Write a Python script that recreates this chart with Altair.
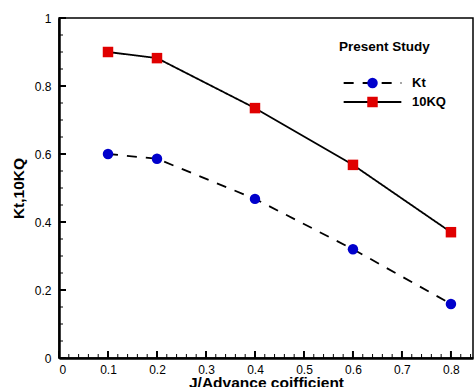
import altair as alt
import pandas as pd

# ---- data ----
J = [0.1, 0.2, 0.4, 0.6, 0.8]
KT = [0.600, 0.586, 0.468, 0.320, 0.159]
KQ10 = [0.900, 0.882, 0.735, 0.568, 0.370]
SERIES = ["Kt", "10KQ"]

X_MAJOR = [0, 0.1, 0.2, 0.3, 0.4, 0.5, 0.6, 0.7, 0.8]
X_MINOR = [0.02, 0.04, 0.06, 0.08, 0.12, 0.14, 0.16, 0.18, 0.22, 0.24, 0.26, 0.28,
           0.32, 0.34, 0.36, 0.38, 0.42, 0.44, 0.46, 0.48, 0.52, 0.54, 0.56, 0.58,
           0.62, 0.64, 0.66, 0.68, 0.72, 0.74, 0.76, 0.78, 0.82, 0.84]
Y_MAJOR = [0, 0.2, 0.4, 0.6, 0.8, 1.0]
Y_MINOR = [0.05, 0.1, 0.15, 0.25, 0.3, 0.35, 0.45, 0.5, 0.55, 0.65, 0.7, 0.75,
           0.85, 0.9, 0.95]

rows = []
for j, v in zip(J, KT):
    rows.append({"J": j, "V": v, "Series": "Kt", "Marker": "Kt"})
for j, v in zip(J, KQ10):
    rows.append({"J": j, "V": v, "Series": "10KQ", "Marker": "10KQ"})
df = pd.DataFrame(rows)

FONT = "Liberation Sans"
BLUE = "#0000cc"
RED = "#e00000"
W, H = 414, 340

xscale = alt.Scale(domain=[0, 0.845], nice=False, zero=False)
yscale = alt.Scale(domain=[0, 1], nice=False, zero=False)

ax_x = alt.Axis(orient="bottom", values=X_MAJOR, format="~g", ticks=False,
                domain=True, domainColor="black", domainWidth=2.5, grid=False,
                labelFont=FONT, labelFontSize=12, labelColor="black", labelPadding=6,
                title="J/Advance coifficient", titleFont=FONT, titleFontSize=15.5,
                titleFontWeight="bold", titleColor="black", titlePadding=0)
ax_y = alt.Axis(orient="left", values=Y_MAJOR, format="~g", ticks=False,
                domain=True, domainColor="black", domainWidth=2.5, grid=False,
                labelFont=FONT, labelFontSize=12, labelColor="black", labelPadding=8,
                title="Kt,10KQ", titleFont=FONT, titleFontSize=15.5,
                titleFontWeight="bold", titleColor="black", titlePadding=8)

LEG_COMMON = dict(orient="none", legendX=280, legendY=22, padding=0,
                  titleFont=FONT, titleFontSize=13.5, titleFontWeight="bold",
                  titleColor="black", titlePadding=23, titleAnchor="start",
                  labelFont=FONT, labelFontSize=13, labelFontWeight="bold",
                  labelColor="black", labelOffset=33, symbolOffset=27,
                  symbolSize=110, rowPadding=5)

leg_lines = alt.Legend(title="Present Study", symbolType="M-5.5,0H5.5",
                       symbolStrokeColor="black", symbolStrokeWidth=2,
                       **LEG_COMMON)
leg_marks = alt.Legend(title="Present Study", titleOpacity=0, labelOpacity=0,
                       symbolStrokeWidth=0, symbolOpacity=1, **LEG_COMMON)

base = alt.Chart(df)

lines = base.mark_line(interpolate="linear", color="black", strokeWidth=1.8).encode(
    x=alt.X("J:Q", scale=xscale, axis=ax_x),
    y=alt.Y("V:Q", scale=yscale, axis=ax_y),
    strokeDash=alt.StrokeDash("Series:N", sort=SERIES,
                              scale=alt.Scale(range=[[10, 9], [1, 0]]),
                              legend=leg_lines),
)

points = base.mark_point(filled=True, size=110, opacity=1, strokeWidth=0).encode(
    x=alt.X("J:Q", scale=xscale, axis=ax_x),
    y=alt.Y("V:Q", scale=yscale, axis=ax_y),
    color=alt.Color("Marker:N", scale=alt.Scale(domain=SERIES, range=[BLUE, RED]),
                    legend=leg_marks),
    shape=alt.Shape("Marker:N", scale=alt.Scale(domain=SERIES, range=["circle", "square"]),
                    legend=leg_marks),
)

# inward-pointing tick marks, drawn from the tick value lists
xmaj = alt.Chart(pd.DataFrame({"t": X_MAJOR})).mark_rule(color="black", strokeWidth=2).encode(
    x=alt.X("t:Q", scale=xscale, axis=ax_x), y=alt.value(H), y2=alt.value(H - 7))
xmin = alt.Chart(pd.DataFrame({"t": X_MINOR})).mark_rule(color="black", strokeWidth=1).encode(
    x=alt.X("t:Q", scale=xscale, axis=ax_x), y=alt.value(H), y2=alt.value(H - 4))
ymaj = alt.Chart(pd.DataFrame({"t": Y_MAJOR})).mark_rule(color="black", strokeWidth=2).encode(
    y=alt.Y("t:Q", scale=yscale, axis=ax_y), x=alt.value(0), x2=alt.value(7))
ymin = alt.Chart(pd.DataFrame({"t": Y_MINOR})).mark_rule(color="black", strokeWidth=1).encode(
    y=alt.Y("t:Q", scale=yscale, axis=ax_y), x=alt.value(0), x2=alt.value(4))

chart = alt.layer(lines, xmaj, xmin, ymaj, ymin, points).properties(
    width=W, height=H,
    autosize=alt.AutoSizeParams(type="none"),
    padding={"left": 59, "top": 18, "right": 2, "bottom": 29},
    background="white",
).configure_view(stroke="black", strokeWidth=1.5)

chart.save("out.html", embed_options={"renderer": "svg", "actions": False})
